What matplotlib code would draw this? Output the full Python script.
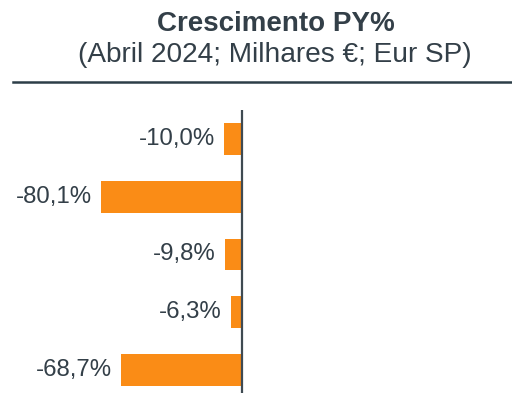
import matplotlib.pyplot as plt
from matplotlib.lines import Line2D

plt.rcParams['font.family'] = ['Liberation Sans', 'DejaVu Sans']

categories = ['A', 'B', 'C', 'D', 'E']
growth = [-10.0, -80.1, -9.8, -6.3, -68.7]
labels = ['-10,0%', '-80,1%', '-9,8%', '-6,3%', '-68,7%']

text_color = '#333F48'
bar_color = '#FA8C16'

fig = plt.figure(figsize=(5.12, 3.93), dpi=100)
ax = fig.add_axes([0, 0, 1, 0.72])

ypos = range(len(categories))
ax.barh(ypos, growth, height=0.55, color=bar_color)
for y, v, lab in zip(ypos, growth, labels):
    ax.text(v - 5.2, y, lab, ha='right', va='center', fontsize=17.3, color=text_color)

ax.axvline(0, color='#3F4A52', lw=1.6)
ax.set_xlim(-137.5, 153.4)
ax.set_ylim(4.4, -0.5)
ax.axis('off')

fig.text(0.539, 1 - 31 / 393, 'Crescimento PY%', ha='center', va='baseline',
         fontsize=20, fontweight='bold', color=text_color)
fig.text(0.537, 1 - 62 / 393, '(Abril 2024; Milhares €; Eur SP)', ha='center',
         va='baseline', fontsize=20.2, color=text_color)
fig.add_artist(Line2D([13 / 512, 1], [1 - 82 / 393] * 2, color='#2D3E48', lw=1.8))

fig.savefig('out.png', dpi=100)
